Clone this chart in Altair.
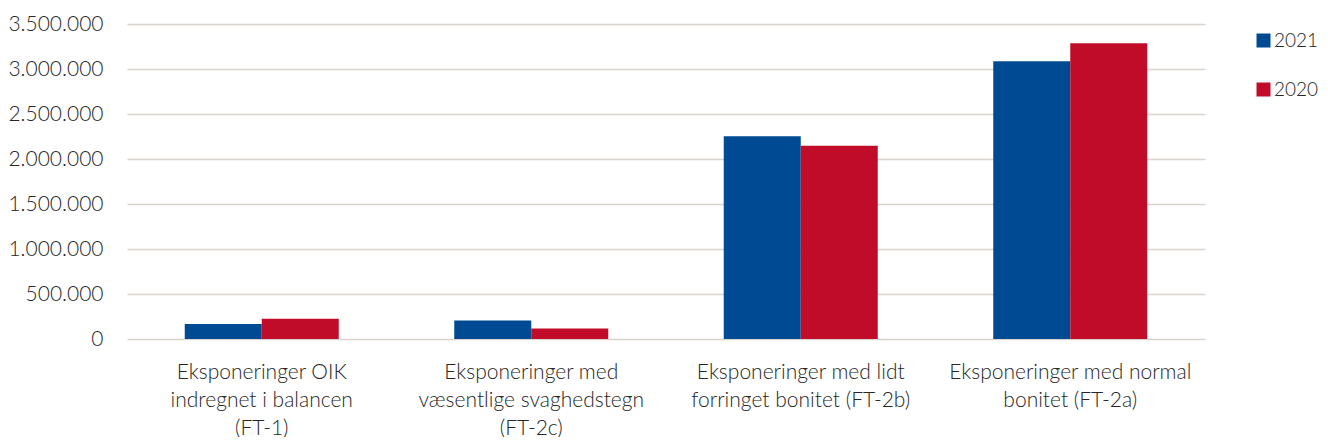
import altair as alt
import pandas as pd

categories = [
    "Eksponeringer OIK|indregnet i balancen|(FT-1)",
    "Eksponeringer med|væsentlige svaghedstegn|(FT-2c)",
    "Eksponeringer med lidt|forringet bonitet (FT-2b)",
    "Eksponeringer med normal|bonitet (FT-2a)",
]
years = ["2021", "2020"]
values_2021 = [167000, 206000, 2253000, 3085000]
values_2020 = [226000, 116000, 2146000, 3285000]
y_ticks = [0, 500000, 1000000, 1500000, 2000000, 2500000, 3000000, 3500000]
colors = ["#004A93", "#C00C28"]

rows = []
for c, a, b in zip(categories, values_2021, values_2020):
    rows.append({"category": c, "year": "2021", "value": a})
    rows.append({"category": c, "year": "2020", "value": b})
df = pd.DataFrame(rows)

FONT = "Lato"
WEIGHT = 300
TXT = "#262626"

chart = alt.Chart(df).mark_bar().encode(
    x=alt.X(
        "category:N",
        sort=categories,
        scale=alt.Scale(paddingInner=0.4286, paddingOuter=0.2143),
        axis=alt.Axis(
            title=None,
            labelExpr="split(datum.label, '|')",
            labelAngle=0,
            labelFont=FONT,
            labelFontWeight=WEIGHT,
            labelFontSize=21,
            labelLineHeight=28,
            labelPadding=22,
            labelLimit=0,
            labelColor=TXT,
            domain=False,
            ticks=False,
            grid=False,
        ),
    ),
    xOffset=alt.XOffset("year:N", sort=years),
    y=alt.Y(
        "value:Q",
        scale=alt.Scale(domain=[0, 3500000], nice=False),
        axis=alt.Axis(
            title=None,
            values=y_ticks,
            labelExpr="replace(format(datum.value, ',d'), /,/g, '.')",
            labelFont=FONT,
            labelFontWeight=WEIGHT,
            labelFontSize=21,
            labelColor=TXT,
            labelPadding=24,
            domain=False,
            ticks=False,
            gridColor="#D9D4CE",
            gridWidth=1.3,
        ),
    ),
    color=alt.Color(
        "year:N",
        sort=years,
        scale=alt.Scale(domain=years, range=colors),
        legend=alt.Legend(
            title=None,
            orient="none",
            legendX=1127,
            legendY=7,
            symbolType="square",
            symbolSize=196,
            symbolStrokeWidth=0,
            labelFont=FONT,
            labelFontWeight=WEIGHT,
            labelFontSize=19,
            labelColor=TXT,
            labelOffset=1,
            labelLimit=0,
            rowPadding=29,
            padding=0,
        ),
    ),
).properties(
    width=1078,
    height=315,
    autosize=alt.AutoSizeParams(type="none"),
    padding={"left": 119, "top": 16, "right": 115, "bottom": 98},
).configure_view(stroke=None)

chart.save("out.html", embed_options={"renderer": "svg", "actions": False})
